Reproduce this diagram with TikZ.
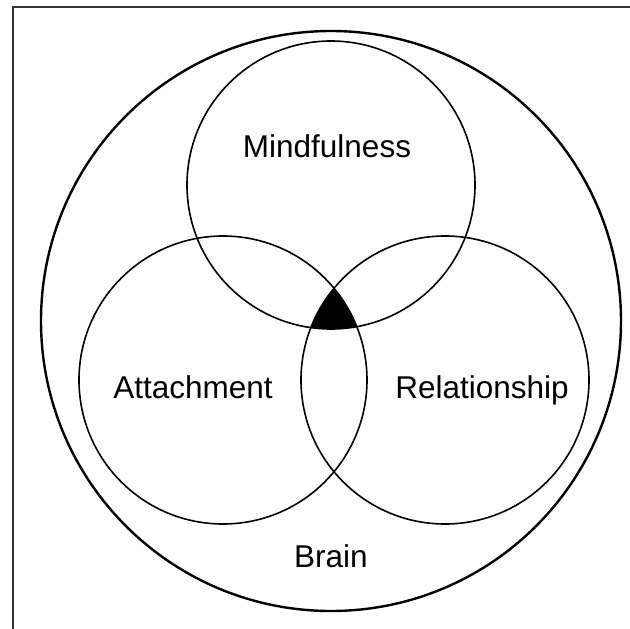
\documentclass[tikz,border=0pt]{standalone}
\usepackage{fontspec}
\setmainfont{Liberation Sans}
\begin{document}
\begin{tikzpicture}[
        x=1pt, y=-1pt,
        % --- Styles ---
        ring/.style={draw=black, line width=1.6pt},
        outerring/.style={draw=black, line width=2.4pt},
        label/.style={anchor=base, font=\fontsize{31.5}{36}\selectfont, inner sep=0pt},
    ]

    % ===== Page =====
    \useasboundingbox (0,0) rectangle (630,629);
    \draw[black!80, line width=1.6pt] (13,629) -- (13,7) -- (630,7);

    % ===== Circle centres =====
    \coordinate (brainC) at (331,321);
    \coordinate (mindC)  at (331,185);
    \coordinate (attC)   at (223,380);
    \coordinate (relC)   at (445,380);

    % ===== Common core =====
    \begin{scope}
        \clip (attC) circle (144);
        \clip (relC) circle (144);
        \fill[black] (mindC) circle (144);
    \end{scope}

    % ===== Circles =====
    \draw[outerring] (brainC) circle (290);
    \draw[ring] (mindC) circle (144);
    \draw[ring] (attC) circle (144);
    \draw[ring] (relC) circle (144);

    % ===== Labels =====
    \node[label] (mind)  at (327,157) {Mindfulness};
    \node[label] (att)   at (193,398) {Attachment};
    \node[label] (rel)   at (482,398) {Relationship};
    \node[label] (brain) at (331,567) {Brain};

\end{tikzpicture}
\end{document}
